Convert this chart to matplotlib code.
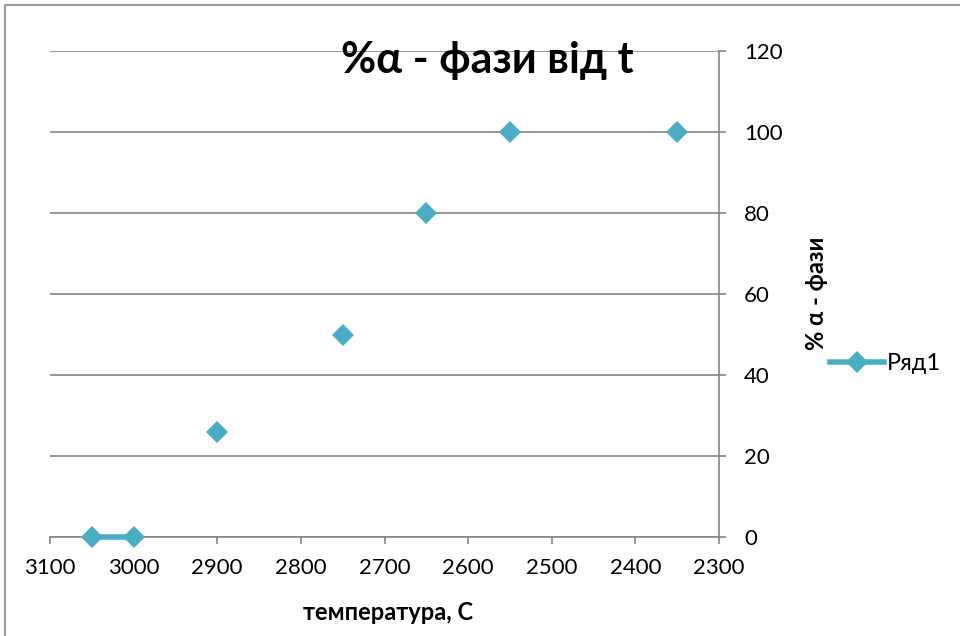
import matplotlib
matplotlib.use("Agg")
import matplotlib.pyplot as plt
from matplotlib.patches import Rectangle
from matplotlib.lines import Line2D

plt.rcParams['font.family'] = ['Lato', 'DejaVu Sans']

# Data
temperature = [3050, 3000, 2900, 2750, 2650, 2550, 2350]
alpha_pct = [0, 0, 26, 50, 80, 100, 100]
x_ticks = [3100, 3000, 2900, 2800, 2700, 2600, 2500, 2400, 2300]
y_ticks = [0, 20, 40, 60, 80, 100, 120]
series_name = "Ряд1"
title = "%α - фази від t"
x_label = "температура, С"
y_label = "% α - фази"

color = "#4BACC6"
grid_col = "#868686"

fig = plt.figure(figsize=(9.6, 6.36), dpi=100)
ax = fig.add_axes([50/960, 1-537/636, (719-50)/960, (537-51)/636])

# connected segment (first two points) and markers
ax.plot(temperature[:2], alpha_pct[:2], color=color, lw=4, solid_capstyle='butt',
        zorder=3, clip_on=False)
ax.plot(temperature, alpha_pct, linestyle='none', marker='D', markersize=11,
        color=color, markeredgewidth=0, zorder=4, clip_on=False)

ax.set_xlim(3100, 2300)
ax.set_ylim(0, 120)
ax.set_xticks(x_ticks)
ax.set_yticks(y_ticks)

ax.yaxis.tick_right()
for s in ['left', 'top']:
    ax.spines[s].set_visible(False)
for s in ['right', 'bottom']:
    ax.spines[s].set_color(grid_col)
    ax.spines[s].set_linewidth(1.2)

ax.grid(axis='y', color=grid_col, lw=1.2)
ax.set_axisbelow(True)
ax.tick_params(axis='x', direction='out', length=5, width=1.2, color=grid_col,
               labelsize=16, pad=10)
ax.tick_params(axis='y', direction='out', length=5, width=1.2, color=grid_col,
               labelsize=16, pad=13, right=True, left=False)

fig.text(487/960, 1-60/636, title, fontsize=31, fontweight='bold',
         ha='center', va='center')
fig.text(388/960, 1-612/636, x_label, fontsize=17, fontweight='bold',
         ha='center', va='center')
fig.text(816/960, 1-293/636, y_label, fontsize=17, fontweight='bold',
         ha='center', va='center', rotation=90)

# legend
h = Line2D([0], [0], color=color, lw=4, marker='D', markersize=11, markeredgewidth=0)
fig.legend([h], [series_name], loc='center left', bbox_to_anchor=(830/960, 1-364/636),
           frameon=False, fontsize=17, handlelength=2.3, handletextpad=0.1,
           borderaxespad=0, borderpad=0)

# chart border
fig.patches.append(Rectangle((5/960, -0.1), 1.2, 1-5/636+0.1, transform=fig.transFigure,
                             fill=False, edgecolor='#888888', lw=1.2))

fig.savefig("out.png", dpi=100)
